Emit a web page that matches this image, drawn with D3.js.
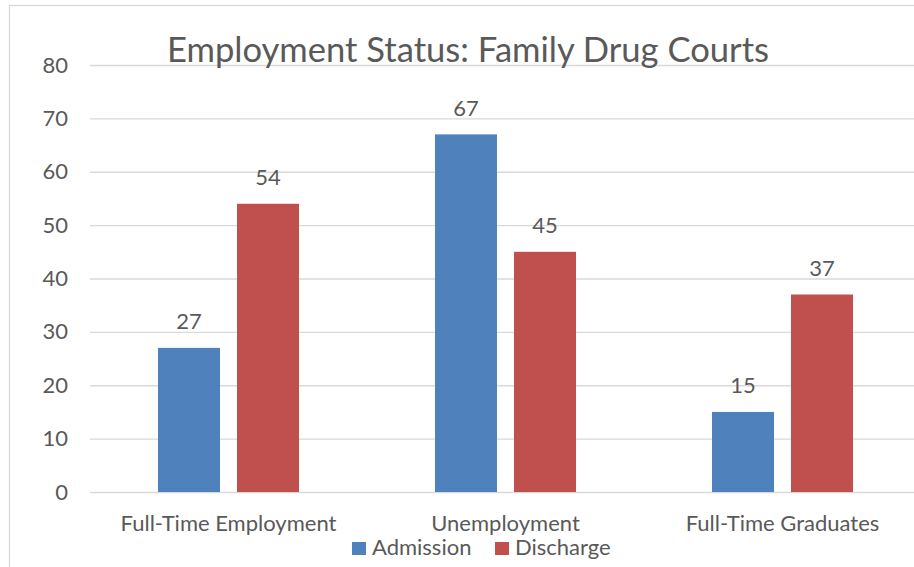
<!DOCTYPE html>
<html>
<head>
<meta charset="utf-8">
<script src="https://cdn.jsdelivr.net/npm/d3@7/dist/d3.min.js"></script>
<style>
  html, body { margin: 0; padding: 0; background: #fff; }
  svg { display: block; font-family: Lato, "Open Sans", sans-serif; }
</style>
</head>
<body>
<svg id="chart" width="914" height="567"></svg>
<script>
// Employment status at admission vs. discharge, family drug court participants
const categories = ["Full-Time Employment", "Unemployment", "Full-Time Graduates"];
const seriesNames = ["Admission", "Discharge"];
const admission = [27, 67, 15];
const discharge = [54, 45, 37];
const yTicks = [0, 10, 20, 30, 40, 50, 60, 70, 80];
const colors = ["#4F81BD", "#C0504D"];
const title = "Employment Status: Family Drug Courts";

const svg = d3.select("#chart");
const textColor = "#595959";
const gridColor = "#d9d9d9";
const labelSize = 22;

// chart frame
svg.append("rect")
  .attr("x", 9.5).attr("y", 5.5)
  .attr("width", 1000).attr("height", 1000)
  .attr("fill", "none").attr("stroke", gridColor).attr("stroke-width", 1.3);

const x0 = d3.scaleBand().domain(categories).range([90, 921]).paddingInner(0).paddingOuter(0);
const x1 = d3.scaleBand().domain(seriesNames).range([68, 277 - 68]).paddingInner(0.215);
const y = d3.scaleLinear().domain([0, 80]).range([492, 65]);

// horizontal gridlines + y labels
const yAxis = d3.axisLeft(y).tickValues(yTicks).tickSize(-(921 - 90)).tickPadding(22);
const gy = svg.append("g").attr("transform", "translate(90,0)").call(yAxis);
gy.select(".domain").remove();
gy.selectAll(".tick line").attr("stroke", gridColor).attr("stroke-width", 1.3);
gy.selectAll(".tick text")
  .attr("fill", textColor).attr("font-size", labelSize).attr("font-family", "Lato, sans-serif");

// category labels
const xAxis = d3.axisBottom(x0).tickSize(0).tickPadding(23.4);
const gx = svg.append("g").attr("transform", "translate(0,492)").call(xAxis);
gx.select(".domain").remove();
gx.selectAll(".tick text")
  .attr("fill", textColor).attr("font-size", labelSize).attr("font-family", "Lato, sans-serif");

// bars
const rows = categories.map((c, i) => ({ cat: c, vals: [admission[i], discharge[i]] }));
const groups = svg.selectAll(".grp").data(rows).join("g")
  .attr("class", "grp")
  .attr("transform", d => `translate(${x0(d.cat)},0)`);

groups.selectAll("rect").data(d => d.vals.map((v, j) => ({ name: seriesNames[j], v, j })))
  .join("rect")
  .attr("x", d => x1(d.name))
  .attr("y", d => y(d.v))
  .attr("width", x1.bandwidth())
  .attr("height", d => y(0) - y(d.v))
  .attr("fill", d => colors[d.j]);

groups.selectAll("text.val").data(d => d.vals.map((v, j) => ({ name: seriesNames[j], v, j })))
  .join("text")
  .attr("class", "val")
  .attr("x", d => x1(d.name) + x1.bandwidth() / 2)
  .attr("y", d => y(d.v) - 18.5)
  .attr("text-anchor", "middle")
  .attr("fill", textColor)
  .attr("font-size", labelSize)
  .text(d => d.v);

// title
svg.append("text")
  .attr("x", 468).attr("y", 62)
  .attr("text-anchor", "middle")
  .attr("fill", textColor)
  .attr("font-size", 34.6)
  .text(title);

// legend
const legend = svg.append("g");
const legendX = [352, 495];
seriesNames.forEach((name, j) => {
  legend.append("rect")
    .attr("x", legendX[j]).attr("y", 542)
    .attr("width", 14).attr("height", 13)
    .attr("fill", colors[j]);
  legend.append("text")
    .attr("x", legendX[j] + 20).attr("y", 555)
    .attr("fill", textColor)
    .attr("font-size", labelSize)
    .text(name);
});
</script>
</body>
</html>
